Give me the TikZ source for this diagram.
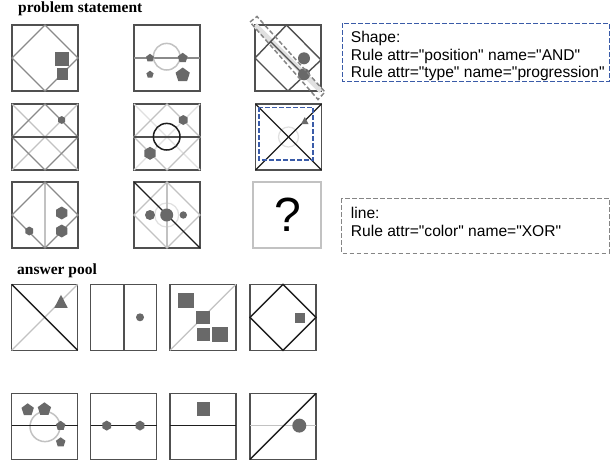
\documentclass[tikz,border=0pt]{standalone}
\usepackage{fontspec}
\setmainfont{Liberation Serif}
\newfontfamily\arialfont{Liberation Sans}
\definecolor{framec}{HTML}{505050}
\definecolor{shapec}{HTML}{696969}
\definecolor{midg}{HTML}{8A8A8A}
\definecolor{lightg}{HTML}{C2C2C2}
\definecolor{vlightg}{HTML}{E0E0E0}
\definecolor{blk}{HTML}{1E1E1E}
\definecolor{bluec}{HTML}{3A5BA8}
\definecolor{dashg}{HTML}{858585}
\newcommand\mypent[3]{\fill[shapec] ($(#1,#2)+(-90:#3)$) -- ($(#1,#2)+(-18:#3)$) -- ($(#1,#2)+(54:#3)$) -- ($(#1,#2)+(126:#3)$) -- ($(#1,#2)+(198:#3)$) -- cycle;}
\newcommand\myhex[3]{\fill[shapec] ($(#1,#2)+(90:#3)$) -- ($(#1,#2)+(150:#3)$) -- ($(#1,#2)+(210:#3)$) -- ($(#1,#2)+(270:#3)$) -- ($(#1,#2)+(330:#3)$) -- ($(#1,#2)+(30:#3)$) -- cycle;}
\newcommand\mydiamond[1]{\draw[#1] (33,0) -- (66,33) -- (33,66) -- (0,33) -- cycle;}
\newcommand\myframe{\draw[frame] (0,0) rectangle (66,66);}
\usetikzlibrary{calc}
\begin{document}
\begin{tikzpicture}[x=1pt,y=-1pt,
  frame/.style={draw=framec,line width=1.2pt},
  lmid/.style={draw=midg,line width=1.3pt},
  llight/.style={draw=lightg,line width=1.3pt},
  lvlight/.style={draw=vlightg,line width=1.3pt},
  lblk/.style={draw=blk,line width=1.4pt},
  ldark/.style={draw=framec,line width=1.4pt},
  head/.style={font=\bfseries\fontsize{15.5}{15}\selectfont,anchor=base west,inner sep=0pt},
  rtext/.style={font=\arialfont\fontsize{15.6}{13}\selectfont,anchor=base west,inner sep=0pt},
  bluebox/.style={draw=bluec,line width=1.5pt,dash pattern=on 4.5pt off 2.5pt},
  graybox/.style={draw=dashg,line width=1.5pt,dash pattern=on 4.5pt off 2.5pt},
]
\useasboundingbox (0,0) rectangle (616,461);
\fill[white] (0,0) rectangle (616,461);

% headings
\node[head] (hps) at (18,12.7) {problem statement};
\node[head] (hap) at (17,274) {answer pool};

% ---------- Row 1 ----------
\begin{scope}[shift={(12,25)}]
  \myframe
  \mydiamond{lmid}
  \fill[shapec] (43,27) rectangle (56.5,40.5);
  \fill[shapec] (44.5,43) rectangle (56,55);
\end{scope}

\begin{scope}[shift={(134,25)}]
  \myframe
  \draw[lmid] (0,33) -- (66,33);
  \draw[lightg,line width=1.5pt] (32.7,31.7) circle (13.3);
  \mypent{16}{33}{4.2}
  \mypent{48.7}{33}{5.2}
  \mypent{16}{49.5}{3.8}
  \mypent{48.7}{50}{7.5}
\end{scope}

\begin{scope}[shift={(255,25)}]
  \myframe
  \draw[vlightg,line width=5pt] (0,0) -- (66,66);
  \draw[ldark] (31.5,0) -- (66,35) -- (33,66) -- (0,33) -- cycle;
  \draw[ldark] (15,16) -- (50,51);
  \fill[shapec] (49,33.3) circle (6);
  \fill[shapec] (49,49.3) circle (6);
  \draw[graybox] (-5,-3) -- (2,-8.5) -- (70,67) -- (63,74.5) -- cycle;
\end{scope}

% ---------- Row 2 ----------
\begin{scope}[shift={(12,104)}]
  \myframe
  \draw[llight] (0,0) -- (66,66);
  \draw[llight] (66,0) -- (0,66);
  \mydiamond{lmid}
  \draw[ldark] (0,33) -- (66,33);
  \myhex{49.7}{16}{4}
\end{scope}

\begin{scope}[shift={(134,104)}]
  \myframe
  \draw[lvlight] (0,0) -- (66,66);
  \draw[lvlight] (66,0) -- (0,66);
  \mydiamond{llight}
  \draw[ldark] (0,33) -- (66,33);
  \draw[blk,line width=1.5pt] (32.7,32.7) circle (13.3);
  \myhex{49.3}{16}{5}
  \myhex{16}{49.3}{6.5}
\end{scope}

\begin{scope}[shift={(255.5,104)}]
  \myframe
  \draw[vlightg,line width=1.2pt] (33,33) circle (10);
  \draw[lblk] (0,0) -- (66,66);
  \draw[lblk] (66,0) -- (0,66);
  \fill[shapec] (49.3,13) -- (53,20) -- (45.6,20) -- cycle;
  \draw[bluebox] (3.6,3.3) rectangle (57.6,56);
\end{scope}

% ---------- Row 3 ----------
\begin{scope}[shift={(12,182)}]
  \myframe
  \draw[llight] (33,0) -- (33,66);
  \mydiamond{lmid}
  \myhex{49.7}{31}{6.5}
  \myhex{49.7}{49}{6.5}
  \myhex{17.3}{49}{4.5}
\end{scope}

\begin{scope}[shift={(134,182)}]
  \myframe
  \draw[vlightg,line width=1.2pt] (32.7,33) circle (12);
  \mydiamond{llight}
  \draw[llight] (33,0) -- (33,66);
  \draw[lblk] (0,0) -- (66,66);
  \fill[shapec] (16,33) circle (5);
  \fill[shapec] (32.7,33) circle (6.5);
  \fill[shapec] (49.3,33) circle (3.7);
\end{scope}

\begin{scope}[shift={(253,182)}]
  \draw[lightg,line width=1.2pt] (0,0) rectangle (68,66);
  \node[font=\arialfont\fontsize{48}{48}\selectfont,inner sep=0pt] (qm) at (34.5,33) {?};
\end{scope}

% ---------- Right boxes ----------
\draw[bluebox] (342.7,23.3) rectangle (609.3,81.7);
\node[rtext] (t1) at (350.7,42.5) {Shape:};
\node[rtext] (t2) at (350.7,60) {Rule attr="position" name="AND"};
\node[rtext] (t3) at (350.7,77.5) {Rule attr="type" name="progression"};

\draw[graybox] (341.7,198.3) rectangle (609.3,253.3);
\node[rtext] (t4) at (350.7,218.5) {line:};
\node[rtext] (t5) at (350.7,236.5) {Rule attr="color" name="XOR"};

% ---------- Answer pool row 1 ----------
\begin{scope}[shift={(11.7,284.3)}]
  \myframe
  \draw[llight] (0,66) -- (66,0);
  \draw[lblk] (0,0) -- (66,66);
  \fill[shapec] (49.3,10.5) -- (56,23.5) -- (42.6,23.5) -- cycle;
\end{scope}

\begin{scope}[shift={(90.7,284.3)}]
  \myframe
  \draw[ldark] (33.3,0) -- (33.3,66);
  \fill[shapec] (49.3,33) circle (4);
\end{scope}

\begin{scope}[shift={(170,284.3)}]
  \myframe
  \draw[llight] (0,66) -- (66,0);
  \fill[shapec] (8.3,9) rectangle (23.5,24);
  \fill[shapec] (26,26.7) rectangle (40,40);
  \fill[shapec] (26.7,43.3) rectangle (40,56.7);
  \fill[shapec] (42,42.3) rectangle (57.5,57.3);
\end{scope}

\begin{scope}[shift={(250,284.3)}]
  \myframe
  \mydiamond{lblk}
  \fill[shapec] (45,28.3) rectangle (55,38.3);
\end{scope}

% ---------- Answer pool row 2 ----------
\begin{scope}[shift={(11.7,393.3)}]
  \myframe
  \draw[lightg,line width=1.5pt] (33.3,33.3) circle (15);
  \draw[lblk] (0,32) -- (66,32);
  \mypent{16}{16.5}{6.5}
  \mypent{32.7}{16}{7}
  \mypent{49}{32.5}{5}
  \mypent{49}{49}{5}
\end{scope}

\begin{scope}[shift={(90.7,393.3)}]
  \myframe
  \draw[lblk] (0,32.3) -- (66,32.3);
  \myhex{16}{32.3}{5}
  \myhex{49.3}{32.3}{5}
\end{scope}

\begin{scope}[shift={(170,393.3)}]
  \myframe
  \draw[lblk] (0,32.3) -- (66,32.3);
  \fill[shapec] (26.7,9) rectangle (40,22.3);
\end{scope}

\begin{scope}[shift={(250,393.3)}]
  \myframe
  \draw[llight] (0,32.3) -- (66,32.3);
  \draw[lblk] (0,66) -- (66,0);
  \fill[shapec] (49.3,32.3) circle (7);
\end{scope}
\end{tikzpicture}
\end{document}
